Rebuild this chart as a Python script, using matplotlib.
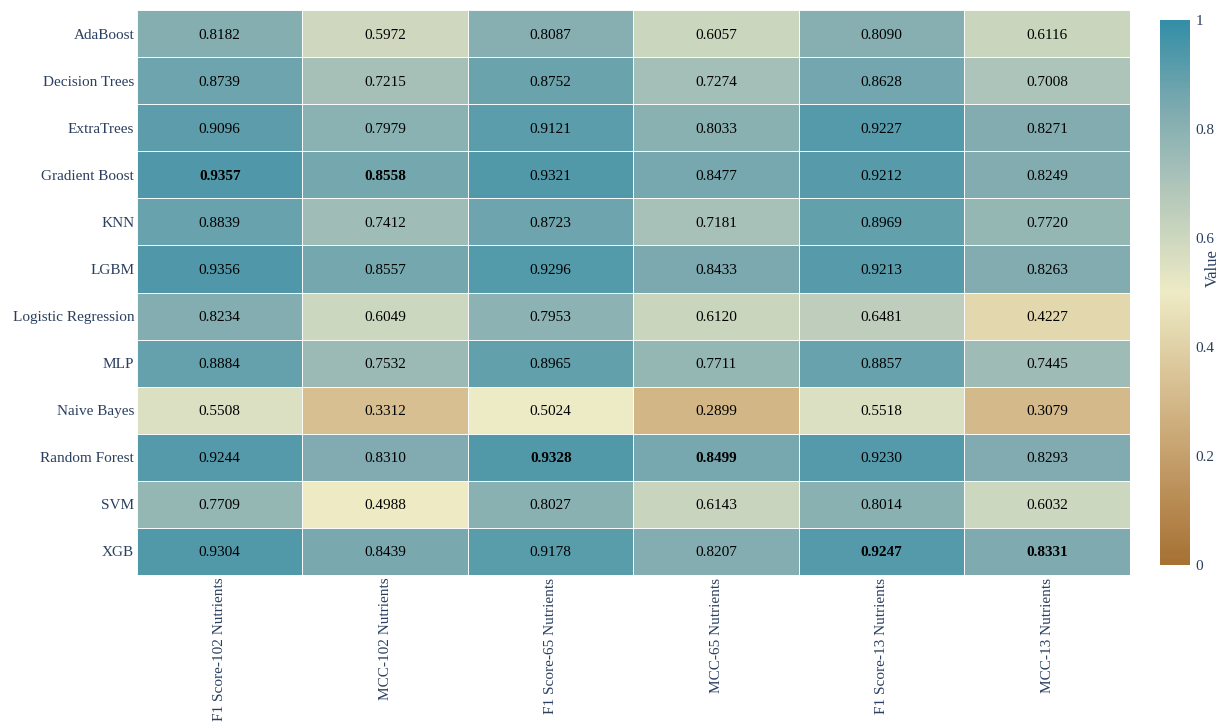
import numpy as np
import matplotlib.pyplot as plt
from matplotlib.colors import LinearSegmentedColormap

# ----------------------------------------------------------------------
# Data
# ----------------------------------------------------------------------
models = [
    "AdaBoost", "Decision Trees", "ExtraTrees", "Gradient Boost", "KNN", "LGBM",
    "Logistic Regression", "MLP", "Naive Bayes", "Random Forest", "SVM", "XGB",
]
metrics = [
    "F1 Score-102 Nutrients", "MCC-102 Nutrients",
    "F1 Score-65 Nutrients", "MCC-65 Nutrients",
    "F1 Score-13 Nutrients", "MCC-13 Nutrients",
]
f1_102 = [0.8182, 0.8739, 0.9096, 0.9357, 0.8839, 0.9356, 0.8234, 0.8884, 0.5508, 0.9244, 0.7709, 0.9304]
mcc_102 = [0.5972, 0.7215, 0.7979, 0.8558, 0.7412, 0.8557, 0.6049, 0.7532, 0.3312, 0.8310, 0.4988, 0.8439]
f1_65 = [0.8087, 0.8752, 0.9121, 0.9321, 0.8723, 0.9296, 0.7953, 0.8965, 0.5024, 0.9328, 0.8027, 0.9178]
mcc_65 = [0.6057, 0.7274, 0.8033, 0.8477, 0.7181, 0.8433, 0.6120, 0.7711, 0.2899, 0.8499, 0.6143, 0.8207]
f1_13 = [0.8090, 0.8628, 0.9227, 0.9212, 0.8969, 0.9213, 0.6481, 0.8857, 0.5518, 0.9230, 0.8014, 0.9247]
mcc_13 = [0.6116, 0.7008, 0.8271, 0.8249, 0.7720, 0.8263, 0.4227, 0.7445, 0.3079, 0.8293, 0.6032, 0.8331]

values = np.array([f1_102, mcc_102, f1_65, mcc_65, f1_13, mcc_13]).T

# carto "Earth" colour scale
earth = ["#a16928", "#bd925a", "#d6bd8d", "#edeac2", "#b5c8b8", "#79a7ac", "#2887a1"]
cmap = LinearSegmentedColormap.from_list("earth", earth)

plt.rcParams["font.family"] = ["Liberation Serif", "DejaVu Serif"]
label_color = "#2a3f5f"

fig = plt.figure(figsize=(12.22, 7.25), dpi=100)
ax = fig.add_axes([0.1121, 0.2069, 0.8126, 0.7793])

mesh = ax.pcolormesh(values, cmap=cmap, vmin=0, vmax=1,
                     edgecolor=(1, 1, 1, 0.35), linewidth=0.6, alpha=0.95)
ax.set_xlim(0, len(metrics))
ax.set_ylim(len(models), 0)

best = values.argmax(axis=0)
for i in range(len(models)):
    for j in range(len(metrics)):
        ax.text(j + 0.5, i + 0.5, f"{values[i, j]:.4f}", ha="center", va="center_baseline",
                fontsize=11, color="black",
                fontweight="bold" if best[j] == i else "normal")

ax.set_xticks(np.arange(len(metrics)) + 0.5)
ax.set_xticklabels(metrics, rotation=90, fontsize=11, color=label_color)
ax.set_yticks(np.arange(len(models)) + 0.5)
ax.set_yticklabels(models, fontsize=11, color=label_color)
ax.tick_params(length=0, pad=2)
for s in ax.spines.values():
    s.set_visible(False)

# Colorbar
cax = fig.add_axes([0.9492, 0.2207, 0.0245, 0.7517])
cb = fig.colorbar(mesh, cax=cax)
cb.set_ticks([0, 0.2, 0.4, 0.6, 0.8, 1])
cb.set_ticklabels(["0", "0.2", "0.4", "0.6", "0.8", "1"])
cb.outline.set_visible(False)
cax.tick_params(length=0, labelsize=11, colors=label_color, pad=4)
fig.text(0.9925, 0.63, "Value", rotation=90, ha="center", va="center",
         fontsize=12, color=label_color)

fig.savefig("out.png", dpi=100)
